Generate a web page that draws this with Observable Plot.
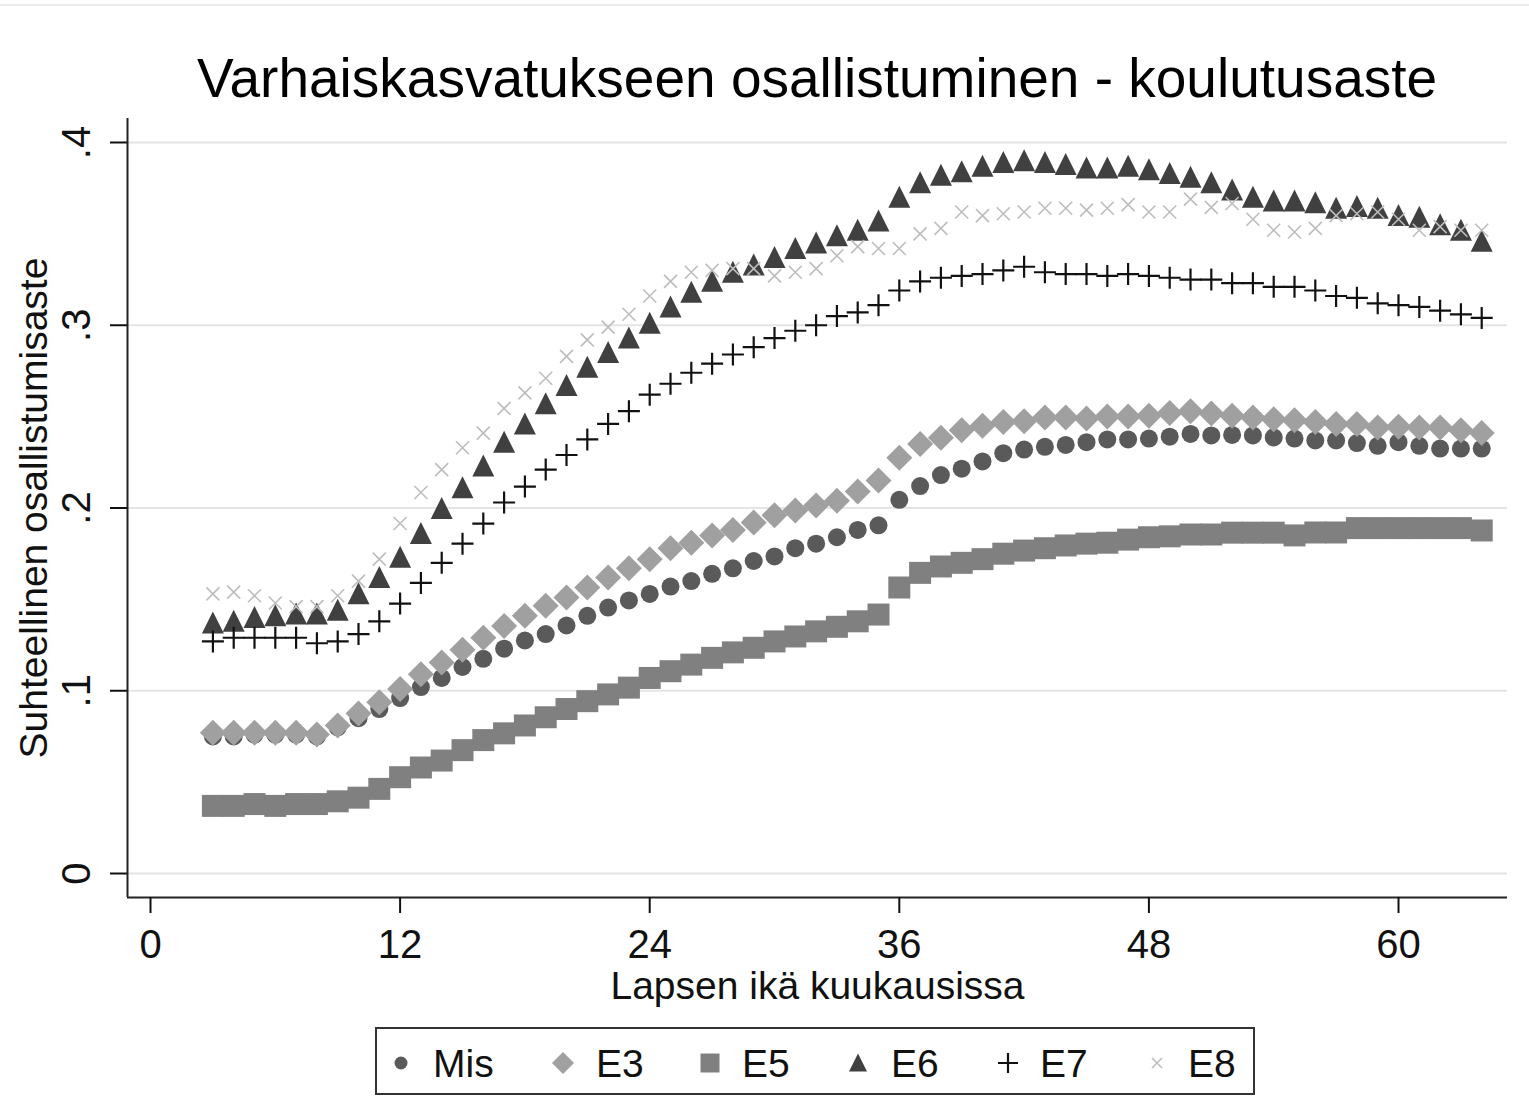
<!DOCTYPE html>
<html>
<head>
<meta charset="utf-8">
<script src="https://cdn.jsdelivr.net/npm/d3@7"></script>
<script src="https://cdn.jsdelivr.net/npm/@observablehq/plot@0.6"></script>
<style>
  html, body { margin: 0; padding: 0; background: #fff; }
  body { width: 1529px; height: 1097px; position: relative; overflow: hidden;
         font-family: "Liberation Sans", Arial, sans-serif; }
  #topline { position: absolute; left: 0; top: 4px; width: 1529px; height: 2px; background: #ececec; }
  #title { position: absolute; left: 0; top: 0; }
  #chart { position: absolute; left: 0; top: 110px; }
  #legend { position: absolute; left: 375px; top: 1027px; width: 876px; height: 64px;
            border: 2px solid #333; background: #fff; }
</style>
</head>
<body>
<div id="topline"></div>
<svg id="title" width="1529" height="110">
  <text x="817" y="97" text-anchor="middle" font-size="55" fill="#000"
        font-family="Liberation Sans, Arial, sans-serif">Varhaiskasvatukseen osallistuminen - koulutusaste</text>
</svg>
<div id="chart"></div>
<div id="legend"></div>
<script>
// ---- Data ----
const months = [3,4,5,6,7,8,9,10,11,12,13,14,15,16,17,18,19,20,21,22,23,24,25,26,27,28,29,30,31,32,33,34,35,36,37,38,39,40,41,42,43,44,45,46,47,48,49,50,51,52,53,54,55,56,57,58,59,60,61,62,63,64];

const seriesNames = ["Mis", "E3", "E5", "E6", "E7", "E8"];

const mis = [0.075,0.075,0.076,0.076,0.076,0.075,0.080,0.085,0.090,0.096,0.102,0.107,0.113,0.1175,0.123,0.1275,0.131,0.1357,0.141,0.1455,0.1494,0.153,0.157,0.160,0.164,0.167,0.171,0.1735,0.178,0.1805,0.184,0.188,0.1905,0.2045,0.212,0.218,0.2215,0.2255,0.230,0.232,0.2335,0.2345,0.236,0.2375,0.2375,0.238,0.239,0.2405,0.2397,0.240,0.2397,0.2386,0.238,0.237,0.237,0.2355,0.234,0.236,0.234,0.2325,0.2325,0.2325];

const e3 = [0.077,0.077,0.077,0.077,0.077,0.076,0.081,0.0875,0.0937,0.101,0.109,0.1155,0.1225,0.129,0.1355,0.141,0.1465,0.151,0.1565,0.162,0.167,0.172,0.178,0.181,0.185,0.188,0.192,0.196,0.1986,0.2014,0.204,0.209,0.215,0.2275,0.235,0.2385,0.2425,0.245,0.247,0.2475,0.2495,0.2495,0.249,0.250,0.250,0.2505,0.252,0.253,0.2517,0.2505,0.2495,0.2485,0.248,0.247,0.246,0.246,0.244,0.2445,0.244,0.244,0.2425,0.241];

const e5 = [0.037,0.037,0.038,0.037,0.038,0.038,0.0395,0.0415,0.0463,0.0527,0.058,0.0618,0.0675,0.073,0.0767,0.081,0.0855,0.090,0.0943,0.098,0.1017,0.107,0.1107,0.1143,0.118,0.121,0.1235,0.127,0.1297,0.1325,0.135,0.138,0.1417,0.1565,0.1645,0.168,0.170,0.172,0.175,0.1767,0.178,0.1795,0.1805,0.181,0.1827,0.184,0.1845,0.1855,0.1855,0.1865,0.1865,0.1865,0.185,0.1866,0.1866,0.189,0.189,0.189,0.189,0.189,0.189,0.1877];

const e6 = [0.137,0.138,0.140,0.141,0.142,0.142,0.144,0.153,0.162,0.173,0.186,0.1997,0.211,0.223,0.236,0.246,0.257,0.267,0.277,0.285,0.293,0.301,0.310,0.318,0.324,0.329,0.333,0.337,0.342,0.345,0.349,0.352,0.357,0.370,0.378,0.382,0.384,0.387,0.389,0.390,0.389,0.388,0.386,0.386,0.387,0.385,0.383,0.381,0.378,0.374,0.370,0.368,0.368,0.367,0.364,0.365,0.364,0.360,0.359,0.355,0.352,0.346];

const e7 = [0.127,0.129,0.129,0.129,0.129,0.126,0.127,0.131,0.138,0.1477,0.159,0.170,0.1805,0.1915,0.203,0.2117,0.221,0.229,0.2375,0.246,0.253,0.262,0.268,0.274,0.279,0.284,0.288,0.293,0.297,0.300,0.305,0.307,0.311,0.319,0.324,0.326,0.327,0.328,0.330,0.332,0.329,0.328,0.328,0.327,0.328,0.327,0.326,0.325,0.325,0.323,0.323,0.321,0.321,0.319,0.316,0.315,0.312,0.311,0.310,0.308,0.306,0.304];

const e8 = [0.153,0.154,0.152,0.148,0.146,0.146,0.152,0.160,0.172,0.1915,0.2085,0.221,0.233,0.241,0.2545,0.263,0.271,0.283,0.292,0.299,0.306,0.316,0.324,0.329,0.330,0.331,0.331,0.327,0.329,0.331,0.338,0.343,0.342,0.342,0.350,0.353,0.362,0.360,0.361,0.362,0.364,0.364,0.363,0.364,0.366,0.362,0.362,0.369,0.3645,0.3666,0.358,0.352,0.351,0.353,0.360,0.361,0.362,0.358,0.352,0.354,0.352,0.352];

const xTicks = [0, 12, 24, 36, 48, 60];
const yTicks = [0, 0.1, 0.2, 0.3, 0.4];
const yTickLabels = ["0", ".1", ".2", ".3", ".4"];

const titleText = "Varhaiskasvatukseen osallistuminen - koulutusaste";
const xLabel = "Lapsen ikä kuukausissa";
const yLabel = "Suhteellinen osallistumisaste";

// ---- Scales' domains ----
const xDomain = [-1.106, 65.24];
const yDomain = [-0.01313, 0.41313];

// ---- Custom Stata-like symbols (size = PI r^2) ----
function mk(fn) { return { draw(ctx, size) { fn(ctx, Math.sqrt(size / Math.PI)); } }; }
const symCircle = mk((c, r) => { c.moveTo(r, 0); c.arc(0, 0, r, 0, 2 * Math.PI); });
const symDiamond = mk((c, r) => { c.moveTo(0, -r); c.lineTo(r, 0); c.lineTo(0, r); c.lineTo(-r, 0); c.closePath(); });
const symSquare = mk((c, r) => { c.rect(-r, -r, 2 * r, 2 * r); });
const symTriangle = mk((c, r) => { c.moveTo(0, -1.05 * r); c.lineTo(1.0 * r, 0.95 * r); c.lineTo(-1.0 * r, 0.95 * r); c.closePath(); });
const symPlus = mk((c, r) => { c.moveTo(-r, 0); c.lineTo(r, 0); c.moveTo(0, -r); c.lineTo(0, r); });
const symTimes = mk((c, r) => { c.moveTo(-r, -r); c.lineTo(r, r); c.moveTo(-r, r); c.lineTo(r, -r); });

const styles = [
  { name: seriesNames[0], values: mis, symbol: symCircle,   r: 9,    fill: "#5a5a5a", stroke: "none",    sw: 0,   lr: 6.5 },
  { name: seriesNames[1], values: e3,  symbol: symDiamond,  r: 13,   fill: "#a0a0a0", stroke: "none",    sw: 0,   lr: 11 },
  { name: seriesNames[2], values: e5,  symbol: symSquare,   r: 11,   fill: "#808080", stroke: "none",    sw: 0,   lr: 9.5 },
  { name: seriesNames[3], values: e6,  symbol: symTriangle, r: 11,   fill: "#404040", stroke: "none",    sw: 0,   lr: 9 },
  { name: seriesNames[4], values: e7,  symbol: symPlus,     r: 11,   fill: "none",    stroke: "#111111", sw: 2.2, lr: 10 },
  { name: seriesNames[5], values: e8,  symbol: symTimes,    r: 6.5,  fill: "none",    stroke: "#bdbdbd", sw: 1.6, lr: 5 }
];

const font = "Liberation Sans, Arial, sans-serif";

const chart = Plot.plot({
  width: 1529,
  height: 910,
  marginLeft: 127,
  marginRight: 22,
  marginTop: 8,
  marginBottom: 123,
  x: { domain: xDomain },
  y: { domain: yDomain },
  style: { fontFamily: font, fontSize: "39px", color: "#111", background: "transparent", overflow: "visible" },
  marks: [
    Plot.ruleY(yTicks, { stroke: "#e4e4e4", strokeWidth: 2 }),
    Plot.ruleX([xDomain[0]], { stroke: "#222", strokeWidth: 2 }),
    Plot.ruleY([yDomain[0]], { stroke: "#222", strokeWidth: 2 }),
    Plot.axisX({ ticks: xTicks, tickSize: 16, tickPadding: 16, fontSize: 40, label: null, strokeWidth: 2 }),
    Plot.axisY({ ticks: yTicks, tickSize: 17, tickFormat: () => "", label: null, strokeWidth: 2 }),
    Plot.text(yTicks, { y: d => d, text: yTickLabels, frameAnchor: "left", dx: -50, rotate: -90,
                        fontSize: 40, lineAnchor: "middle", textAnchor: "middle" }),
    Plot.text([yLabel], { text: d => d, frameAnchor: "left", dx: -93, rotate: -90,
                          fontSize: 39, lineAnchor: "middle", textAnchor: "middle" }),
    Plot.text([xLabel], { text: d => d, frameAnchor: "bottom", dy: 101,
                          fontSize: 39, lineAnchor: "bottom", textAnchor: "middle" }),
    ...styles.map(s => Plot.dot(s.values, {
      x: months, y: d => d, symbol: s.symbol, r: s.r,
      fill: s.fill, stroke: s.stroke, strokeWidth: s.sw
    }))
  ]
});
document.getElementById("chart").appendChild(chart);

// ---- Legend ----
const legendPos = [
  { sx: 24, tx: 56 }, { sx: 186, tx: 219 }, { sx: 333, tx: 365 },
  { sx: 481, tx: 514 }, { sx: 631, tx: 663 }, { sx: 780, tx: 811 }
];
const lsvg = d3.select("#legend").append("svg").attr("width", 876).attr("height", 64)
  .style("display", "block");
styles.forEach((s, i) => {
  const p = legendPos[i];
  lsvg.append("path")
    .attr("d", d3.symbol(s.symbol, Math.PI * s.lr * s.lr)())
    .attr("transform", `translate(${p.sx},34)`)
    .attr("fill", s.fill)
    .attr("stroke", s.stroke)
    .attr("stroke-width", s.sw);
  lsvg.append("text")
    .attr("x", p.tx).attr("y", 48)
    .attr("font-family", font).attr("font-size", 39).attr("fill", "#111")
    .text(s.name);
});
</script>
</body>
</html>
